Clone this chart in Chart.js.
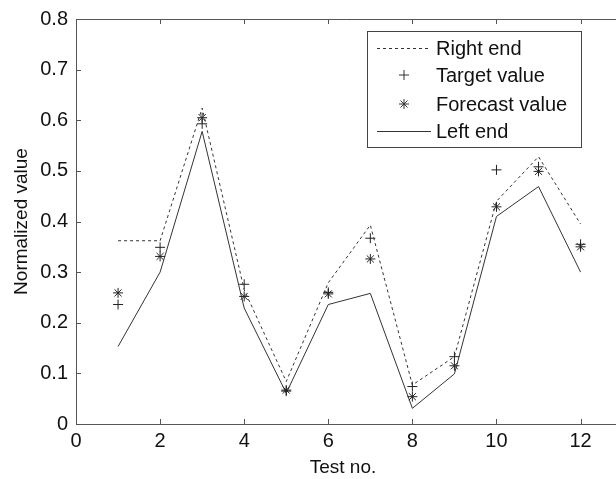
<!DOCTYPE html>
<html>
<head>
<meta charset="utf-8">
<script src="https://cdn.jsdelivr.net/npm/chart.js@4.4.0/dist/chart.umd.min.js"></script>
<style>
html,body{margin:0;padding:0;background:#fff;}
#wrap{width:616px;height:479px;}
</style>
</head>
<body>
<div id="wrap"><canvas id="c" width="616" height="479"></canvas></div>
<script>
const testNo = [1,2,3,4,5,6,7,8,9,10,11,12];
const rightEnd = [0.362,0.362,0.624,0.265,0.084,0.279,0.393,0.077,0.133,0.44,0.528,0.395];
const targetValue = [0.236,0.349,0.593,0.276,0.065,0.26,0.367,0.074,0.133,0.502,0.508,0.355];
const forecastValue = [0.259,0.331,0.605,0.252,0.067,0.257,0.326,0.054,0.115,0.429,0.499,0.350];
const leftEnd = [0.153,0.300,0.578,0.229,0.061,0.236,0.258,0.031,0.099,0.41,0.469,0.300];
const xTicks = [0,2,4,6,8,10,12];
const yTicks = [0,0.1,0.2,0.3,0.4,0.5,0.6,0.7,0.8];

const toPts = arr => testNo.map((x,i)=>({x:x,y:arr[i]}));
const ink = '#333';
const FONT = '"Liberation Sans", Arial, sans-serif';

const frame = {
  id:'frame',
  afterDraw(chart){
    const ctx = chart.ctx, a = chart.chartArea, xs = chart.scales.x, ys = chart.scales.y;
    ctx.save();
    ctx.strokeStyle = '#555';
    ctx.lineWidth = 1;
    ctx.beginPath();
    ctx.moveTo(a.left+0.5, a.top+0.5); ctx.lineTo(chart.width, a.top+0.5);
    ctx.moveTo(a.left+0.5, a.top); ctx.lineTo(a.left+0.5, a.bottom+0.5);
    ctx.moveTo(a.left, a.bottom+0.5); ctx.lineTo(chart.width, a.bottom+0.5);
    const L = 5;
    xTicks.forEach(v=>{
      const px = Math.round(xs.getPixelForValue(v))+0.5;
      ctx.moveTo(px, a.bottom); ctx.lineTo(px, a.bottom-L);
      ctx.moveTo(px, a.top); ctx.lineTo(px, a.top+L);
    });
    yTicks.forEach(v=>{
      const py = Math.round(ys.getPixelForValue(v))+0.5;
      ctx.moveTo(a.left, py); ctx.lineTo(a.left+L, py);
    });
    ctx.stroke();
    // legend
    const bx = 367.5, by = 31.5, bw = 214, bh = 116;
    ctx.fillStyle = '#fff';
    ctx.fillRect(bx, by, bw, bh);
    ctx.strokeStyle = '#444';
    ctx.strokeRect(bx, by, bw, bh);
    const rows = [48, 75, 104, 131];
    const ds = chart.data.datasets;
    ctx.font = '20px ' + FONT;
    ctx.textBaseline = 'middle';
    ctx.textAlign = 'left';
    ds.forEach((d,i)=>{
      const y = rows[i];
      ctx.strokeStyle = ink;
      ctx.lineWidth = 1;
      if (d.showLine) {
        ctx.setLineDash(d.borderDash || []);
        ctx.beginPath();
        ctx.moveTo(377, y+0.5); ctx.lineTo(431, y+0.5);
        ctx.stroke();
        ctx.setLineDash([]);
      } else {
        const cx = 404, r = 5;
        ctx.beginPath();
        if (d.pointStyle === 'cross') {
          ctx.moveTo(cx-r, y); ctx.lineTo(cx+r, y);
          ctx.moveTo(cx, y-r); ctx.lineTo(cx, y+r);
        } else {
          ctx.moveTo(cx-r, y); ctx.lineTo(cx+r, y);
          ctx.moveTo(cx, y-r); ctx.lineTo(cx, y+r);
          const q = r*0.7071;
          ctx.moveTo(cx-q, y-q); ctx.lineTo(cx+q, y+q);
          ctx.moveTo(cx-q, y+q); ctx.lineTo(cx+q, y-q);
        }
        ctx.stroke();
      }
      ctx.fillStyle = '#111';
      ctx.fillText(d.label, 436, y+1);
    });
    ctx.restore();
  }
};

new Chart(document.getElementById('c'), {
  type: 'scatter',
  data: {
    datasets: [
      {label:'Right end', data: toPts(rightEnd), showLine:true, borderColor:ink, borderWidth:1, borderDash:[3,3], pointRadius:0, tension:0},
      {label:'Target value', data: toPts(targetValue), showLine:false, pointStyle:'cross', pointRadius:5, borderColor:'#222', borderWidth:1},
      {label:'Forecast value', data: toPts(forecastValue), showLine:false, pointStyle:'star', pointRadius:5, borderColor:'#222', borderWidth:1},
      {label:'Left end', data: toPts(leftEnd), showLine:true, borderColor:ink, borderWidth:1, pointRadius:0, tension:0}
    ]
  },
  options: {
    responsive:false,
    animation:false,
    layout:{padding:{left:0, right:0, top:19, bottom:0}},
    plugins:{legend:{display:false}, tooltip:{enabled:false}},
    scales:{
      x:{
        type:'linear', min:0, max:12.7,
        afterBuildTicks(s){ s.ticks = xTicks.map(v=>({value:v})); },
        afterFit(s){ s.height = 55; s.paddingRight = 0; s.paddingLeft = 0; },
        grid:{display:false, drawTicks:false},
        border:{display:false},
        ticks:{color:'#111', font:{family:FONT, size:20}, padding:5, maxRotation:0, autoSkip:false},
        title:{display:true, text:'Test no.', color:'#111', font:{family:FONT, size:19}, padding:{top:0,bottom:0}}
      },
      y:{
        type:'linear', min:0, max:0.8,
        afterBuildTicks(s){ s.ticks = yTicks.map(v=>({value:v})); },
        afterFit(s){ s.width = 76; s.paddingTop = 0; s.paddingBottom = 0; },
        grid:{display:false, drawTicks:false},
        border:{display:false},
        ticks:{color:'#111', font:{family:FONT, size:20}, padding:8, autoSkip:false,
          callback:v=> v===0 ? '0' : v.toFixed(1)},
        title:{display:true, text:'Normalized value', color:'#111', font:{family:FONT, size:19}, padding:{top:10,bottom:0}}
      }
    }
  },
  plugins:[frame]
});
</script>
</body>
</html>
